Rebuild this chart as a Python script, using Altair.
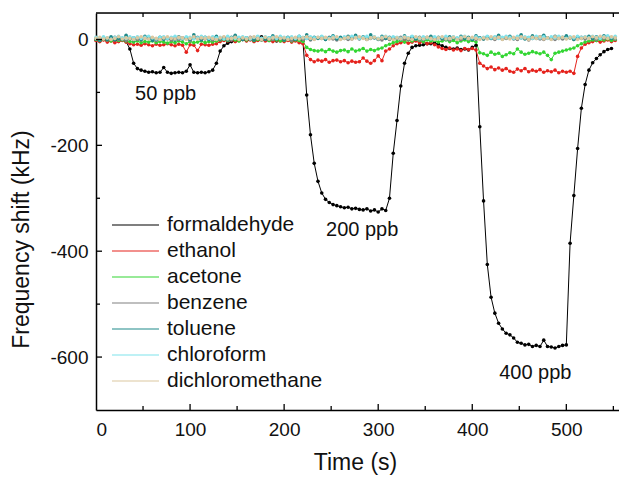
import altair as alt
import pandas as pd

series_names = ["formaldehyde", "ethanol", "acetone", "benzene", "toluene", "chloroform", "dichloromethane"]
series_colors = ["#000000", "#e5221c", "#33d633", "#808080", "#1f8a8a", "#7fe3ec", "#dcc8a0"]

# sampling times (s), one reading every 4 s
time_s = list(range(0, 553, 4))

formaldehyde = [
    -1, -3, 0, -2, 2, -1, -3, 0, -4, -18,
    -45, -55, -58, -60, -62, -61, -63, -62, -53, -62,
    -64, -63, -62, -63, -60, -48, -62, -63, -62, -63,
    -61, -58, -45, -22, -12, -7, -4, -3, -2, 0,
    -2, 1, -3, 0, 5, -1, -2, 1, -3, 0,
    -1, 2, -2, 0, -1, -3, -105, -180, -234, -268,
    -290, -302, -308, -312, -314, -316, -318, -317, -320, -319,
    -321, -322, -320, -324, -322, -326, -320, -323, -300, -215,
    -153, -88, -45, -26, -15, -12, -11, -10, -8, -8,
    -7, -9, -12, -15, -17, -18, -16, -19, -18, -20,
    -15, -11, -165, -305, -425, -487, -517, -536, -547, -555,
    -558, -564, -572, -574, -577, -576, -580, -578, -580, -568,
    -580, -581, -583, -580, -578, -577, -385, -295, -206, -130,
    -85, -58, -44, -36, -29, -23, -19, -17, None,
]
ethanol = [
    -2, -4, -1, -5, -3, -6, -4, -2, -5, -8,
    -10, -9, -11, -8, -10, -12, -9, -11, -10, -8,
    -10, -12, -9, -11, -24, -10, -11, -21, -9, -10,
    -11, -9, -8, -4, -2, -3, -1, -4, -2, 0,
    -3, -1, -4, -2, 0, -3, -1, -4, -2, -3,
    -4, -2, -5, -3, -6, -8, -30, -38, -42, -39,
    -41, -38, -43, -40, -39, -42, -40, -44, -41, -43,
    -42, -35, -41, -45, -40, -31, -40, -22, -18, -12,
    -8, -6, -4, -7, -5, -3, -6, -4, -8, -6,
    -10, -14, -17, -19, -16, -20, -18, -21, -17, -19,
    -17, -20, -45, -50, -55, -52, -57, -54, -58, -55,
    -60, -62, -56, -59, -55, -61, -58, -60, -57, -62,
    -59, -61, -58, -63, -60, -62, -60, -64, -32, -16,
    -9, -6, -4, -2, -5, -3, -1, -4, -2,
]
acetone = [
    0, -2, 1, -1, -3, 0, -2, -1, -3, -4,
    -5, -3, -6, -4, -5, -3, -6, -4, -5, -7,
    -4, -6, -3, -5, -8, -4, -6, -5, -3, -6,
    -4, -5, -3, -1, 0, -2, 1, -1, -3, 0,
    -1, 1, -2, 0, -1, 2, -2, 0, -1, -3,
    -2, 0, -3, -1, -2, -4, -15, -19, -21, -22,
    -20, -23, -19, -22, -24, -21, -20, -23, -18, -22,
    -20, -17, -22, -19, -21, -18, -16, -12, -9, -6,
    -4, -2, -5, -1, -3, 0, -2, -4, -1, -3,
    -2, -5, -3, -1, -4, -2, -6, -3, -1, -4,
    -2, -5, -25, -27, -30, -24, -28, -26, -32, -29,
    -25, -27, -18, -24, -28, -26, -23, -25, -27, -24,
    -30, -38, -26, -24, -22, -20, -18, -16, -12, -8,
    -5, -3, -1, -2, 0, -1, 1, -2, 0,
]
benzene = [
    2, 0, 3, -1, 1, 4, 0, 2, -2, 1,
    3, 0, -1, 2, 4, 1, -2, 0, 3, 1,
    -1, 2, 0, 3, 1, -2, 2, 4, 0, 1,
    3, -1, 2, 0, 4, 1, -1, 3, 2, 0,
    1, 4, 0, 2, -1, 3, 1, 0, 2, 4,
    0, 2, -2, 1, 3, 0, 2, -1, 1, 3,
    2, 0, 4, 1, -1, 2, 3, 0, 1, 4,
    1, 3, 0, 2, 4, 1, -1, 2, 0, 3,
    2, 4, 1, 0, 3, 2, -1, 1, 4, 2,
    0, 3, 1, 2, -1, 4, 2, 0, 3, 1,
    2, 0, 3, 1, 4, 2, 0, 3, 1, 2,
    4, 1, 0, 3, 2, -1, 2, 4, 1, 0,
    3, 2, 0, 4, 1, 2, 3, 0, 2, 4,
    1, 3, 2, 0, 4, 2, 5, 3, 1,
]
toluene = [
    1, -2, 3, 0, 5, -1, 2, 0, 8, 2,
    -1, 3, 0, 6, 2, -2, 1, 4, 0, 3,
    2, -1, 5, 1, 3, 0, 9, 2, -1, 4,
    0, 3, 6, 1, 2, -1, 4, 8, 2, 0,
    3, 1, -1, 5, 2, 0, 3, 7, 1, 2,
    -1, 4, 2, 0, 6, 3, 9, 1, 4, 2,
    5, 0, 3, 7, 1, 4, 2, 6, 3, 8,
    2, 5, 1, 9, 3, 0, 6, 2, 4, 1,
    3, 0, 7, 2, 5, 1, 4, 0, 3, 6,
    1, 4, 2, 0, 5, 3, 1, 6, 2, 4,
    0, 7, 3, 1, 5, 2, 4, 8, 1, 3,
    6, 2, 4, 9, 1, 3, 7, 2, 5, 8,
    3, 1, 6, 2, 4, 7, 3, 0, 5, 2,
    4, 6, 2, 5, 3, 7, 4, 2, 3,
]
chloroform = [
    4, 2, 5, 3, 1, 4, 6, 3, 2, 5,
    3, 5, 2, 4, 6, 3, 1, 4, 5, 2,
    4, 6, 3, 2, 5, 4, 1, 3, 6, 4,
    2, 5, 3, 4, 1, 6, 3, 2, 4, 5,
    3, 1, 4, 6, 2, 5, 3, 4, 2, 6,
    4, 3, 5, 2, 6, 4, 2, 5, 3, 4,
    6, 3, 2, 5, 4, 1, 5, 3, 6, 4,
    2, 4, 6, 3, 5, 2, 4, 6, 3, 5,
    4, 2, 5, 3, 6, 4, 2, 5, 3, 1,
    5, 3, 4, 6, 2, 5, 3, 4, 6, 2,
    3, 5, 2, 4, 6, 3, 5, 2, 4, 6,
    4, 2, 6, 3, 5, 4, 2, 6, 3, 5,
    2, 5, 3, 6, 4, 2, 5, 3, 6, 4,
    5, 3, 6, 4, 2, 5, 7, 4, 6,
]
dichloromethane = [
    2, 4, 1, 3, 0, 2, 5, 1, 3, 2,
    0, 3, 5, 2, 1, 4, 2, 0, 3, 5,
    2, 1, 4, 3, 0, 2, 5, 1, 3, 2,
    4, 2, 0, 3, 5, 1, 2, 4, 0, 3,
    1, 3, 5, 2, 0, 4, 1, 3, 5, 2,
    3, 0, 2, 4, 1, 3, 5, 2, 0, 4,
    2, 4, 1, 3, 5, 0, 2, 4, 1, 3,
    5, 2, 0, 3, 4, 1, 3, 5, 2, 0,
    3, 1, 4, 2, 0, 5, 3, 1, 4, 2,
    0, 3, 5, 1, 2, 4, 0, 3, 5, 2,
    4, 2, 0, 3, 1, 5, 2, 4, 0, 3,
    1, 4, 2, 5, 3, 0, 4, 2, 5, 1,
    3, 0, 5, 2, 4, 1, 3, 5, 0, 2,
    4, 2, 5, 3, 6, 4, 2, 5, 3,
]

ann_text = ["50 ppb", "200 ppb", "400 ppb"]
ann_time = [74, 283, 467]
ann_shift = [-115, -371, -641]

x_major = [100, 200, 300, 400, 500]
x_minor = [50, 150, 250, 350, 450, 550]
y_major = [0, -200, -400, -600]
y_minor = [-100, -300, -500]

all_series = [formaldehyde, ethanol, acetone, benzene, toluene, chloroform, dichloromethane]
rows = []
for name, vals in zip(series_names, all_series):
    for t, v in zip(time_s, vals):
        if v is not None:
            rows.append({"time": t, "shift": v, "gas": name})
df = pd.DataFrame(rows)
ann_df = pd.DataFrame({"time": ann_time, "shift": ann_shift, "label": ann_text})

W, H = 523, 397
FONT = "Liberation Sans"

xscale = alt.Scale(domain=[0, 556], nice=False, zero=False)
yscale = alt.Scale(domain=[-700, 50], nice=False, zero=False)

color_enc = alt.Color(
    "gas:N",
    scale=alt.Scale(domain=series_names, range=series_colors),
    sort=series_names,
    legend=alt.Legend(
        title=None, orient="none", legendX=15, legendY=199,
        symbolType="stroke", symbolSize=2209, symbolStrokeWidth=1.2,
        clipHeight=26, rowPadding=0, padding=0, labelOffset=7,
        labelFontSize=21, labelFont=FONT, labelColor="#111111",
    ),
)

x_axis = alt.Axis(
    title="Time (s)", values=[0, 100, 200, 300, 400, 500], format="d",
    ticks=False, grid=False, domain=True, domainColor="#000000", domainWidth=1.5,
    labelFontSize=19, labelPadding=10, labelColor="#111111", labelFont=FONT,
    titleFontSize=23, titleFontWeight="normal", titleFont=FONT, titleColor="#111111",
    titleBaseline="alphabetic", titleY=59, titleX=259,
)
y_axis = alt.Axis(
    title="Frequency shift (kHz)", values=y_major,
    labelExpr="datum.value < 0 ? '-' + format(-datum.value, 'd') : format(datum.value, 'd')",
    ticks=False, grid=False, domain=True, domainColor="#000000", domainWidth=1.5,
    labelFontSize=19, labelPadding=8, labelColor="#111111", labelFont=FONT,
    titleFontSize=23, titleFontWeight="normal", titleFont=FONT, titleColor="#111111",
    titleBaseline="alphabetic", titleAngle=270, titleX=-68, titleY=226,
)
x_enc = alt.X("time:Q", scale=xscale, axis=x_axis)
y_enc = alt.Y("shift:Q", scale=yscale, axis=y_axis)

base = alt.Chart(df)
lines = base.mark_line(strokeWidth=1).encode(x=x_enc, y=y_enc, color=color_enc, detail="gas:N")
points = base.mark_point(filled=True, size=13, opacity=1, shape="circle").encode(
    x=x_enc, y=y_enc, color=color_enc
)

labels = alt.Chart(ann_df).mark_text(
    fontSize=20, font=FONT, color="#111111", align="center", baseline="alphabetic"
).encode(x=x_enc, y=y_enc, text="label:N")

def tick_layer(values, channel, length, side):
    m = alt.Chart(pd.DataFrame({"time": values, "shift": values})).mark_rule(color="#000000", strokeWidth=1.3)
    if channel == "x":
        if side == "bottom":
            return m.encode(x=x_enc, y=alt.value(H), y2=alt.value(H - length))
        return m.encode(x=x_enc, y=alt.value(0), y2=alt.value(length))
    return m.encode(y=y_enc, x=alt.value(0), x2=alt.value(length))

ticks = [
    tick_layer(x_major, "x", 6, "bottom"),
    tick_layer(x_minor, "x", 4, "bottom"),
    tick_layer(x_major, "x", 6, "top"),
    tick_layer(x_minor, "x", 4, "top"),
    tick_layer(y_major, "y", 6, "left"),
    tick_layer(y_minor, "y", 4, "left"),
]

top_frame = alt.Chart(pd.DataFrame({"v": [0]})).mark_rule(color="#000000", strokeWidth=1.5).encode(
    x=alt.value(0), x2=alt.value(W), y=alt.value(0)
)

chart = alt.layer(lines, points, labels, top_frame, *ticks).properties(
    width=W, height=H,
    autosize=alt.AutoSizeParams(type="none"),
    padding={"left": 88, "top": 5, "right": 0, "bottom": 66},
).configure_view(stroke=None).configure(font=FONT, background="#ffffff")

chart.save("out.html", embed_options={"renderer": "svg", "actions": False})
